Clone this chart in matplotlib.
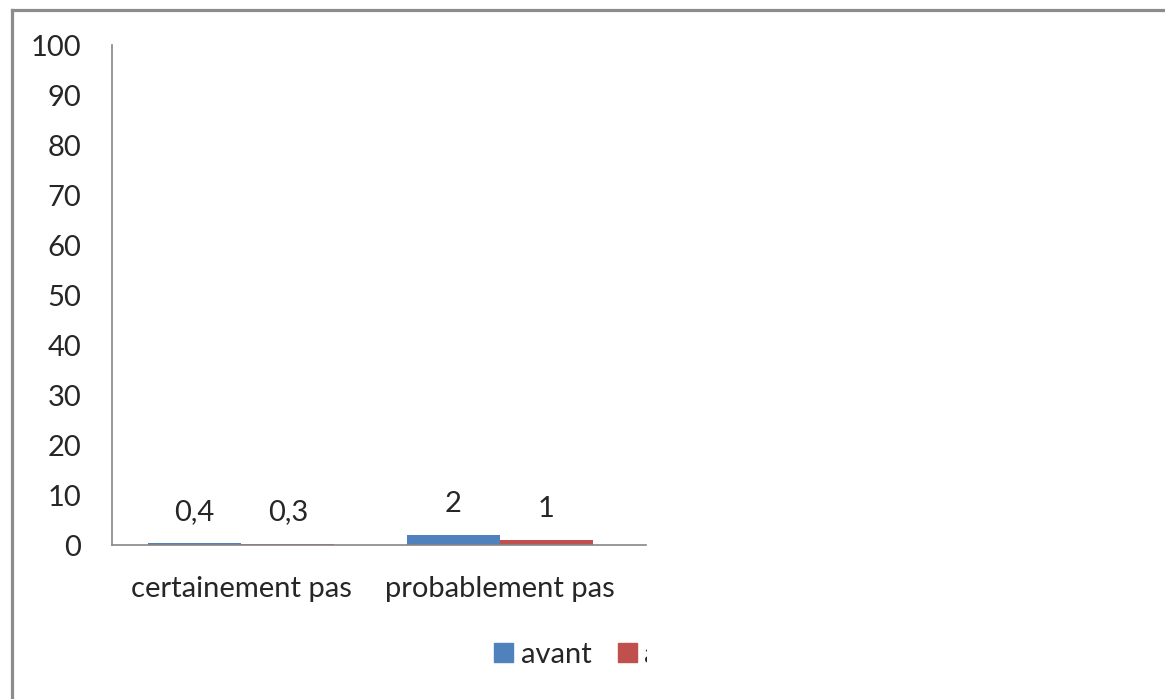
import matplotlib
matplotlib.use("Agg")
import matplotlib.pyplot as plt
from matplotlib.patches import Rectangle, Patch
from matplotlib.lines import Line2D
import numpy as np

plt.rcParams['font.family'] = ['Lato', 'DejaVu Sans']

categories = ["certainement pas", "probablement pas"]
series_names = ["avant", "après"]
avant = [0.4, 2]
apres = [0.3, 1]
labels_avant = ["0,4", "2"]
labels_apres = ["0,3", "1"]
yticks = [0, 10, 20, 30, 40, 50, 60, 70, 80, 90, 100]

blue = "#4F81BD"
red = "#C0504D"
axis_grey = "#868686"
text_col = "#262626"
fs = 21

W, H = 1165, 699
fig = plt.figure(figsize=(W / 100, H / 100), dpi=100)
fig.patch.set_facecolor("white")

x0, x1 = 112, 646
y_top, y_bot = 45, 545
ax = fig.add_axes([x0 / W, (H - y_bot) / H, (x1 - x0) / W, (y_bot - y_top) / H])

x = np.arange(len(categories))
bw = 0.36
b1 = ax.bar(x - bw / 2, avant, bw, color=blue, label=series_names[0])
b2 = ax.bar(x + bw / 2, apres, bw, color=red, label=series_names[1])

for rect, lab in zip(b1, labels_avant):
    ax.annotate(lab, (rect.get_x() + rect.get_width() / 2, rect.get_height()),
                xytext=(0, 22.5), textcoords="offset points", ha="center", va="center",
                fontsize=fs, color=text_col)
for rect, lab in zip(b2, labels_apres):
    ax.annotate(lab, (rect.get_x() + rect.get_width() / 2, rect.get_height()),
                xytext=(0, 22.5), textcoords="offset points", ha="center", va="center",
                fontsize=fs, color=text_col)

ax.set_ylim(0, 100)
ax.set_yticks(yticks)
ax.set_xlim(-0.5, 1.5 + 17 / 258)
ax.set_xticks(x)
ax.set_xticklabels(categories)
ax.tick_params(axis="y", length=0, pad=22, labelsize=fs, labelcolor=text_col)
ax.tick_params(axis="x", length=0, pad=22, labelsize=fs, labelcolor=text_col)
for s in ["top", "right"]:
    ax.spines[s].set_visible(False)
for s in ["left", "bottom"]:
    ax.spines[s].set_color(axis_grey)
    ax.spines[s].set_linewidth(1.2)

# legend
handles = [Patch(color=blue), Patch(color=red)]
fig.legend(handles, series_names, loc="center left",
           bbox_to_anchor=(474 / W, (H - 655) / H), ncol=2, frameon=False,
           fontsize=fs, handlelength=0.65, handleheight=0.65, handletextpad=0.25,
           columnspacing=0.9, labelcolor=text_col, borderpad=0.2)

# the chart object is cut off on the right
fig.patches.append(Rectangle((647 / W, 0), 1, (H - 13) / H, transform=fig.transFigure,
                             facecolor="white", edgecolor="none", zorder=50))

# outer frame: top and left edges
fig.lines.append(Line2D([11.5 / W, 1], [(H - 9.5) / H, (H - 9.5) / H], transform=fig.transFigure,
                        color="#8c8c8c", linewidth=2.3, zorder=60))
fig.lines.append(Line2D([11.5 / W, 11.5 / W], [0, (H - 9.5) / H], transform=fig.transFigure,
                        color="#8c8c8c", linewidth=2.3, zorder=60))

fig.savefig("out.png", dpi=100)
